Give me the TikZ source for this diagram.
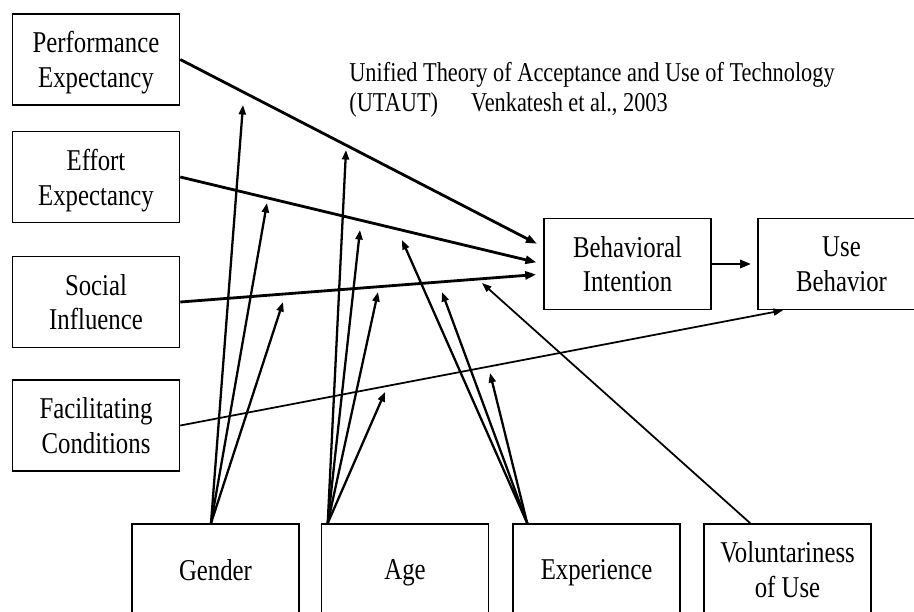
\documentclass[tikz,border=0pt]{standalone}
\usepackage{fontspec}
\setmainfont{Liberation Serif}[FakeStretch=0.82]
\usepackage{tikz}
\usetikzlibrary{arrows.meta}
\tikzset{every node/.style={font=\fontsize{17.2}{19.9}\selectfont}}
\tikzset{
  factor/.style={draw, line width=0.9pt, minimum width=33.4mm,
    minimum height=18.2mm, inner sep=0pt, align=center, text depth=0pt},
  mainarrow/.style={-{Triangle[length=2.2mm, width=1.6mm]}, line width=1.6pt},
  modarrow/.style={-{Triangle[length=1.9mm, width=1.4mm]}, line width=1.3pt},
  thinarrow/.style={-{Triangle[length=1.9mm, width=1.4mm]}, line width=1pt},
}

\begin{document}
\begin{tikzpicture}[x=0.2mm, y=-0.2mm]

  % Frame of the picture.
  \clip (0,0) rectangle (914,611);

  % Title.
  \node[anchor=west, inner sep=0pt, align=left,
    font=\fontsize{15.5}{17}\selectfont] (title) at (349,90)
    {Unified Theory of Acceptance and Use of Technology\\
     (UTAUT)\hspace{6.6mm}Venkatesh et al., 2003};

  % Determinants.
  \node[factor] (pe) at (96,59.5)  {Performance\\Expectancy};
  \node[factor] (ee) at (96,177)   {Effort\\Expectancy};
  \node[factor] (si) at (96,302)   {Social\\Influence};
  \node[factor] (fc) at (96,425.5) {Facilitating\\Conditions};

  % Outcomes.
  \node[factor] (bi) at (627.5,264) {Behavioral\\Intention};
  \node[factor] (ub) at (841.5,264) {Use\\Behavior};

  % Moderators.
  \node[factor] (gender)    at (215.5,569.5) {Gender};
  \node[factor] (age)       at (405,569.5)   {Age};
  \node[factor] (exper)     at (596.5,569.5) {Experience};
  \node[factor] (volunt)    at (787.5,569.5) {Voluntariness\\of Use};

  % Direct paths.
  \draw[mainarrow, shorten >=1.4mm] (pe.east) -- ([yshift=3.4mm]bi.west);
  \draw[mainarrow, shorten >=1.4mm] (ee.east) -- (bi.west);
  \draw[mainarrow, shorten >=1.4mm] (si.east) -- ([yshift=-2mm]bi.west);
  \draw[mainarrow, shorten >=1.2mm] (bi.east) -- (ub.west);
  \draw[thinarrow] (fc.east) -- ([xshift=-11.7mm]ub.south);

  % Tips of the moderating arrows.
  \coordinate (g1) at (243,105);
  \coordinate (g2) at (267,203);
  \coordinate (g3) at (283,302);
  \coordinate (a1) at (346,150);
  \coordinate (a2) at (360,230);
  \coordinate (a3) at (378,292);
  \coordinate (a4) at (385,392);
  \coordinate (e1) at (402,240);
  \coordinate (e2) at (442,292);
  \coordinate (e3) at (490,373);
  \coordinate (v1) at (482,283);

  % Moderating paths.
  \foreach \t in {g1,g2,g3}
    \draw[modarrow] ([xshift=-0.9mm]gender.north) -- (\t);
  \foreach \t in {a1,a2,a3,a4}
    \draw[modarrow] ([xshift=1.4mm]age.north west) -- (\t);
  \foreach \t in {e1,e2,e3}
    \draw[modarrow] ([xshift=3mm]exper.north west) -- (\t);
  \draw[thinarrow] ([xshift=9.4mm]volunt.north west) -- (v1);

\end{tikzpicture}
\end{document}
